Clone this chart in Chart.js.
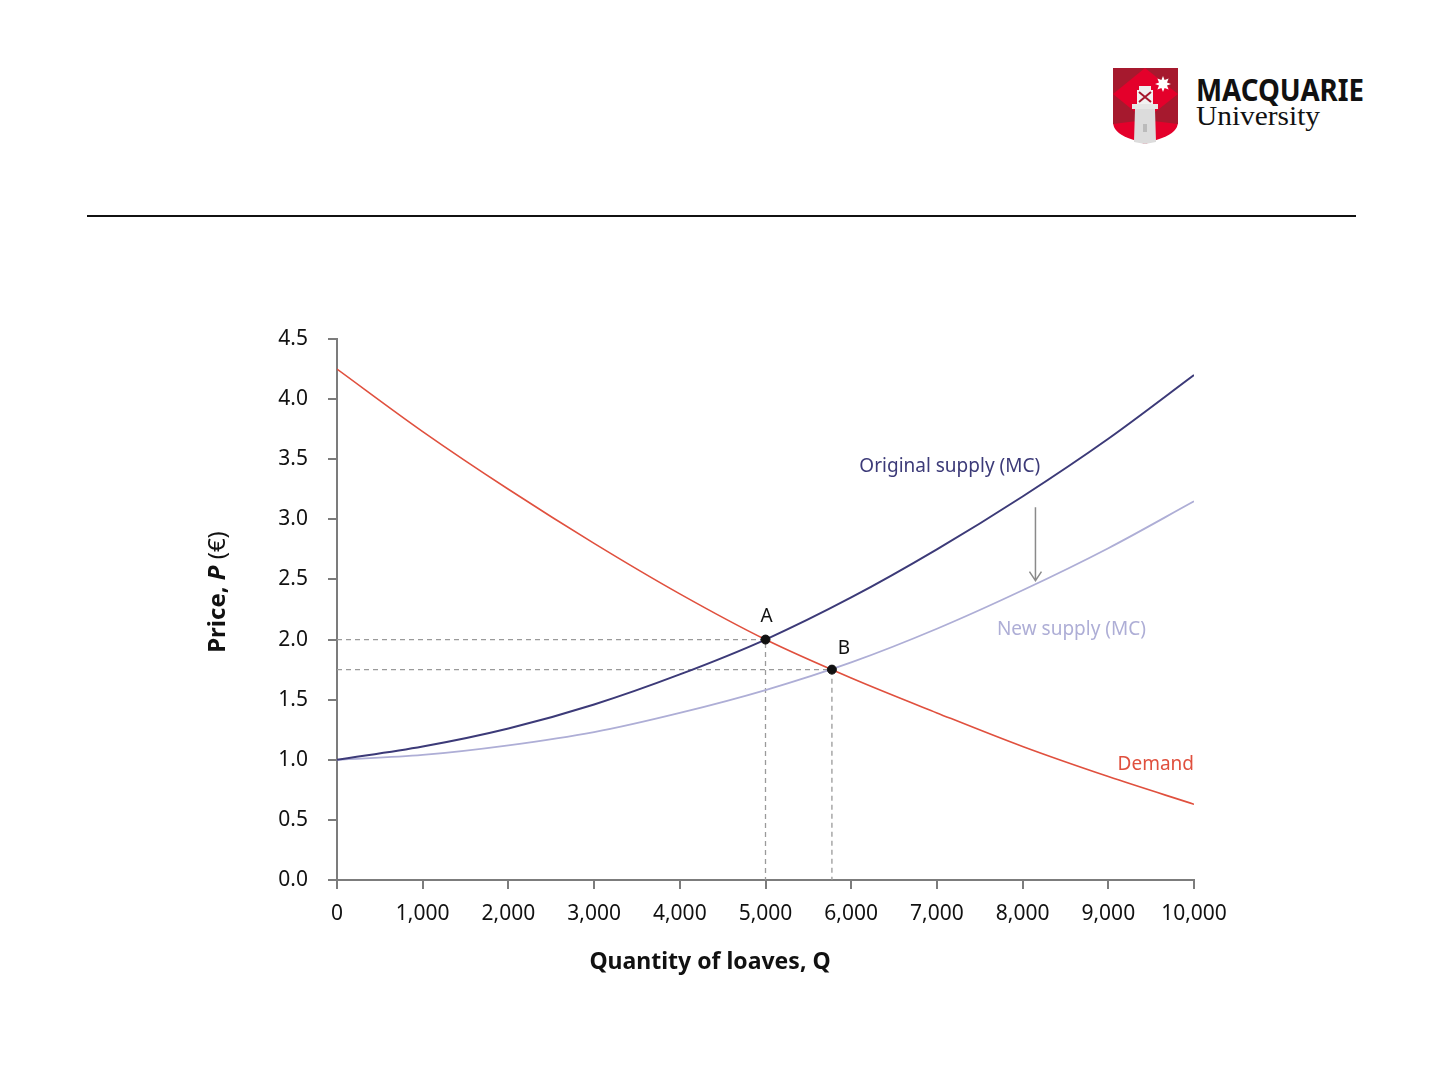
<!DOCTYPE html>
<html>
<head>
<meta charset="utf-8">
<title>Supply shift: bread market</title>
<script src="https://cdn.jsdelivr.net/npm/chart.js@4.4.1/dist/chart.umd.min.js"></script>
<style>
  html, body { margin: 0; padding: 0; background: #fff; }
  #page { position: relative; width: 1440px; height: 1080px; overflow: hidden; }
  #rule { position: absolute; left: 87px; top: 215px; width: 1269px; height: 2px; background: #111; }
  #logo { position: absolute; left: 1110px; top: 64px; }
  #chartBox { position: absolute; left: 0; top: 0; width: 1440px; height: 1080px; }
</style>
</head>
<body>
<div id="page">
  <svg id="logo" width="270" height="84" viewBox="0 0 270 84">
    <!-- shield -->
    <path d="M3 4 H68 V58 Q68 68 52 74 L35 80 L18 74 Q3 68 3 58 Z" fill="#e4002b"/>
    <path d="M3 4 L35 4 L3 30 Z" fill="#a6192e"/>
    <path d="M35 4 L68 4 L68 30 Z" fill="#a6192e"/>
    <path d="M3 30 L35 56 L3 60 Z" fill="#a6192e"/>
    <path d="M68 30 L35 56 L68 60 Z" fill="#a6192e"/>
    <!-- star -->
    <path d="M53 12 l1.6 4 4-1.6-1.6 4 4 1.6-4 1.6 1.6 4-4-1.6-1.6 4-1.6-4-4 1.6 1.6-4-4-1.6 4-1.6-1.6-4 4 1.6z" fill="#fff"/>
    <!-- lighthouse -->
    <rect x="29" y="22" width="12" height="4" fill="#eee"/>
    <rect x="27" y="26" width="16" height="14" fill="#f2f2f2"/>
    <path d="M29 28 L41 38 M41 28 L29 38" stroke="#a6192e" stroke-width="2"/>
    <rect x="22" y="40" width="26" height="5" fill="#e6e6e6"/>
    <path d="M25 45 H45 L46 78 L35 80 L24 78 Z" fill="#dcdcdc"/>
    <rect x="33" y="60" width="4" height="8" fill="#bbb"/>
    <text x="86" y="37" font-family="'Noto Sans', 'DejaVu Sans', sans-serif" font-weight="700" font-size="30" fill="#111" textLength="168" lengthAdjust="spacingAndGlyphs">MACQUARIE</text>
    <text x="86" y="61" font-family="'Liberation Serif', 'DejaVu Serif', serif" font-size="27" fill="#111" textLength="124" lengthAdjust="spacingAndGlyphs">University</text>
  </svg>
  <div id="rule"></div>
  <div id="chartBox"><canvas id="chart"></canvas></div>
</div>
<script>
// Values (quantity of loaves vs price in euro)
const quantities = [0, 1000, 2000, 3000, 4000, 5000, 6000, 7000, 8000, 9000, 10000];
const demandPrices = [4.25, 3.73, 3.25, 2.80, 2.38, 2.00, 1.68, 1.39, 1.11, 0.86, 0.63];
const originalSupplyPrices = [1.00, 1.11, 1.26, 1.46, 1.71, 2.00, 2.35, 2.75, 3.19, 3.67, 4.20];
const newSupplyPrices = [1.00, 1.04, 1.12, 1.23, 1.39, 1.58, 1.81, 2.09, 2.41, 2.76, 3.15];

// Equilibrium points
const pointA = { x: 5000, y: 2.0 };
const pointB = { x: 5775, y: 1.75 };

const xTicks = [0, 1000, 2000, 3000, 4000, 5000, 6000, 7000, 8000, 9000, 10000];
const yTicks = [0, 0.5, 1.0, 1.5, 2.0, 2.5, 3.0, 3.5, 4.0, 4.5];

const FONT = "'Noto Sans', 'Open Sans', sans-serif";
const RED = '#e0503e';
const NAVY = '#3c3a78';
const LAVENDER = '#aeaed6';
const GUIDE = '#9a9a9a';
const AXIS = '#7c7c7c';

const toPoints = (xs, ys) => xs.map((x, i) => ({ x, y: ys[i] }));

// Dashed guides from the axes to each equilibrium
const guideFor = (p) => [{ x: 0, y: p.y }, { x: p.x, y: p.y }, { x: p.x, y: 0 }];

const curve = (label, data, color, width) => ({
  label,
  data,
  borderColor: color,
  backgroundColor: color,
  borderWidth: width,
  pointRadius: 0,
  cubicInterpolationMode: 'monotone',
  fill: false,
  order: 2
});

// Text labels, arrow and axis titles
const annotations = {
  id: 'annotations',
  afterDatasetsDraw(chart) {
    const { ctx, scales: { x, y } } = chart;
    ctx.save();

    ctx.textBaseline = 'middle';
    ctx.font = `19px ${FONT}`;

    ctx.fillStyle = NAVY;
    ctx.textAlign = 'center';
    ctx.fillText('Original supply (MC)', x.getPixelForValue(7150), y.getPixelForValue(3.44));

    ctx.fillStyle = LAVENDER;
    ctx.fillText('New supply (MC)', x.getPixelForValue(8570), y.getPixelForValue(2.08));

    ctx.fillStyle = RED;
    ctx.textAlign = 'right';
    ctx.fillText('Demand', x.getPixelForValue(10000), y.getPixelForValue(0.96));

    // point labels
    ctx.fillStyle = '#111';
    ctx.textAlign = 'center';
    ctx.fillText('A', x.getPixelForValue(pointA.x) + 1, y.getPixelForValue(pointA.y) - 23);
    ctx.fillText('B', x.getPixelForValue(pointB.x) + 12, y.getPixelForValue(pointB.y) - 21);

    // shift arrow
    const ax = x.getPixelForValue(8150);
    const ay0 = y.getPixelForValue(3.10);
    const ay1 = y.getPixelForValue(2.49);
    ctx.strokeStyle = '#8a8a8a';
    ctx.lineWidth = 1.5;
    ctx.beginPath();
    ctx.moveTo(ax, ay0);
    ctx.lineTo(ax, ay1);
    ctx.moveTo(ax - 6, ay1 - 9);
    ctx.lineTo(ax, ay1);
    ctx.lineTo(ax + 6, ay1 - 9);
    ctx.stroke();

    // x axis title
    ctx.fillStyle = '#111';
    ctx.textAlign = 'center';
    ctx.font = `bold 23px ${FONT}`;
    ctx.fillText('Quantity of loaves, Q', 710, 962);

    // y axis title (mixed styles)
    ctx.translate(218, 592);
    ctx.rotate(-Math.PI / 2);
    const parts = [
      { t: 'Price, ', f: `bold 24px ${FONT}` },
      { t: 'P', f: `italic bold 24px ${FONT}` },
      { t: ' (€)', f: `24px ${FONT}` }
    ];
    let total = 0;
    parts.forEach(p => { ctx.font = p.f; total += ctx.measureText(p.t).width; });
    let cx = -total / 2;
    ctx.textAlign = 'left';
    parts.forEach(p => {
      ctx.font = p.f;
      ctx.fillText(p.t, cx, 0);
      cx += ctx.measureText(p.t).width;
    });

    ctx.restore();
  }
};

document.addEventListener('DOMContentLoaded', () => {
  const canvas = document.getElementById('chart');

  new Chart(canvas.getContext('2d'), {
    type: 'line',
    data: {
      datasets: [
        curve('Demand', toPoints(quantities, demandPrices), RED, 1.6),
        curve('Original supply (MC)', toPoints(quantities, originalSupplyPrices), NAVY, 2),
        curve('New supply (MC)', toPoints(quantities, newSupplyPrices), LAVENDER, 1.8),
        {
          label: 'guide A',
          data: guideFor(pointA),
          borderColor: GUIDE,
          borderWidth: 1.3,
          borderDash: [5, 4],
          pointRadius: 0,
          tension: 0,
          order: 3
        },
        {
          label: 'guide B',
          data: guideFor(pointB),
          borderColor: GUIDE,
          borderWidth: 1.3,
          borderDash: [5, 4],
          pointRadius: 0,
          tension: 0,
          order: 3
        },
        {
          label: 'equilibria',
          data: [pointA, pointB],
          showLine: false,
          pointRadius: 4.5,
          pointBackgroundColor: '#111',
          pointBorderColor: '#111',
          order: 1
        }
      ]
    },
    options: {
      responsive: true,
      maintainAspectRatio: false,
      animation: false,
      layout: {
        padding: { left: 257, right: 246, top: 339, bottom: 140 }
      },
      plugins: {
        legend: { display: false },
        tooltip: { enabled: false }
      },
      scales: {
        x: {
          type: 'linear',
          min: 0,
          max: 10000,
          afterFit: (scale) => { scale.height = 60; },
          afterBuildTicks: (scale) => { scale.ticks = xTicks.map(v => ({ value: v })); },
          border: { color: AXIS, width: 2 },
          grid: { drawOnChartArea: false, color: AXIS, lineWidth: 2, tickLength: 9 },
          ticks: {
            color: '#111',
            padding: 12,
            font: { family: FONT, size: 21 },
            callback: (v) => v.toLocaleString('en-US')
          }
        },
        y: {
          min: 0,
          max: 4.5,
          afterFit: (scale) => { scale.width = 80; },
          afterBuildTicks: (scale) => { scale.ticks = yTicks.map(v => ({ value: v })); },
          border: { color: AXIS, width: 2 },
          grid: { drawOnChartArea: false, color: AXIS, lineWidth: 2, tickLength: 9 },
          ticks: {
            color: '#111',
            padding: 20,
            font: { family: FONT, size: 21 },
            callback: (v) => v.toFixed(1)
          }
        }
      }
    },
    plugins: [annotations]
  });
});
</script>
</body>
</html>
